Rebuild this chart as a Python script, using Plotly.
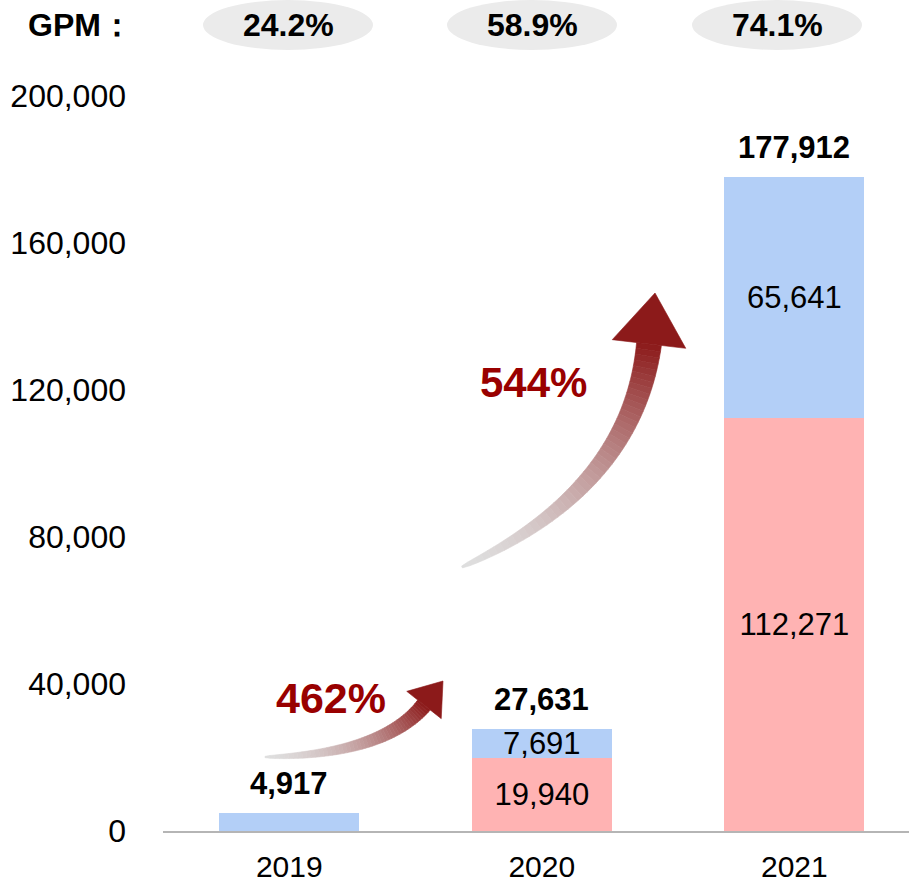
import plotly.graph_objects as go

# ---------------- data ----------------
years = ["2019", "2020", "2021"]
pink_values = [None, 19940, 112271]
blue_values = [4917, 7691, 65641]
blue_show_label = [False, True, True]
totals = [4917, 27631, 177912]
gpm_labels = ["24.2%", "58.9%", "74.1%"]
growth_labels = ["462%", "544%"]
y_ticks = [0, 40000, 80000, 120000, 160000, 200000]

# ---------------- layout constants ----------------
W, H = 909, 885
ML, MR, MT, MB = 163, 0, 96, 54
PW, PH = W - ML - MR, H - MT - MB
FONT = "Liberation Sans, Arial, sans-serif"
BLUE = "#B3CFF7"
PINK = "#FFB3B3"
RED = "#990000"


def px(x):
    return (x - ML) / PW


def py(y):
    return (MT + PH - y) / PH


def fmt(v):
    return "" if v is None else f"{v:,}"


fig = go.Figure()
fig.add_trace(go.Bar(
    x=years, y=pink_values, marker=dict(color=PINK, line=dict(width=0)),
    text=[fmt(v) for v in pink_values], textposition="inside",
    insidetextanchor="middle", constraintext="none", textangle=0,
    insidetextfont=dict(family=FONT, size=31, color="black"),
    hoverinfo="skip", name="pink"))
fig.add_trace(go.Bar(
    x=years, y=blue_values, marker=dict(color=BLUE, line=dict(width=0)),
    text=[fmt(v) if s else "" for v, s in zip(blue_values, blue_show_label)],
    textposition="inside", insidetextanchor="middle", constraintext="none",
    textangle=0, insidetextfont=dict(family=FONT, size=31, color="black"),
    hoverinfo="skip", name="blue"))

annotations = []
# totals above bars (category index as x)
for i, t in enumerate(totals):
    annotations.append(dict(x=i, y=t, xref="x", yref="y", text=f"{t:,}",
                            showarrow=False, yanchor="bottom", xanchor="center", yshift=10,
                            font=dict(family=FONT, size=31, color="black", weight="bold")))

shapes = []
# GPM row
gpm_centers = [288, 532, 777]
for cx, lab in zip(gpm_centers, gpm_labels):
    shapes.append(dict(type="circle", xref="paper", yref="paper",
                       x0=px(cx - 85), x1=px(cx + 85), y0=py(50), y1=py(0),
                       fillcolor="#EBEBEB", line=dict(width=0), layer="below"))
    annotations.append(dict(x=px(cx), y=py(25), xref="paper", yref="paper", text=lab,
                            showarrow=False, xanchor="center", yanchor="middle",
                            font=dict(family=FONT, size=32, color="black", weight="bold")))
annotations.append(dict(x=px(26), y=py(25), xref="paper", yref="paper", text="GPM：",
                        showarrow=False, xanchor="left", yanchor="middle",
                        font=dict(family=FONT, size=32, color="black", weight="bold")))


# ---------------- gradient curved arrows ----------------
def lerp(a, b, t):
    return a + (b - a) * t


def arrow(p0, p1, p2, tip, w1, hw, n=48):
    c0 = (222, 222, 222)
    c1 = (140, 26, 26)
    pts, norms, ts = [], [], []
    for i in range(n + 1):
        t = i / n
        x = (1 - t) ** 2 * p0[0] + 2 * (1 - t) * t * p1[0] + t ** 2 * p2[0]
        y = (1 - t) ** 2 * p0[1] + 2 * (1 - t) * t * p1[1] + t ** 2 * p2[1]
        dx = 2 * (1 - t) * (p1[0] - p0[0]) + 2 * t * (p2[0] - p1[0])
        dy = 2 * (1 - t) * (p1[1] - p0[1]) + 2 * t * (p2[1] - p1[1])
        L = (dx * dx + dy * dy) ** 0.5
        pts.append((x, y))
        norms.append((-dy / L, dx / L))
        ts.append(t)
    edges_l, edges_r = [], []
    for (x, y), (nx, ny), t in zip(pts, norms, ts):
        w = w1 * (0.08 + 0.92 * t ** 0.6)
        edges_l.append((x + nx * w / 2, y + ny * w / 2))
        edges_r.append((x - nx * w / 2, y - ny * w / 2))
    for i in range(n):
        tm = (ts[i] + ts[i + 1]) / 2
        cc = tuple(int(round(lerp(c0[k], c1[k], tm ** 1.5))) for k in range(3))
        col = f"rgb({cc[0]},{cc[1]},{cc[2]})"
        a, b = edges_l[i], edges_l[i + 1]
        c, d = edges_r[i + 1], edges_r[i]
        path = (f"M {px(a[0])},{py(a[1])} L {px(b[0])},{py(b[1])} "
                f"L {px(c[0])},{py(c[1])} L {px(d[0])},{py(d[1])} Z")
        shapes.append(dict(type="path", xref="paper", yref="paper", path=path,
                           fillcolor=col, line=dict(color=col, width=0.6), layer="above"))
    # head
    dx, dy = tip[0] - p2[0], tip[1] - p2[1]
    L = (dx * dx + dy * dy) ** 0.5
    nx, ny = -dy / L, dx / L
    b1 = (p2[0] + nx * hw, p2[1] + ny * hw)
    b2 = (p2[0] - nx * hw, p2[1] - ny * hw)
    hc = f"rgb({c1[0]},{c1[1]},{c1[2]})"
    path = (f"M {px(b1[0])},{py(b1[1])} L {px(tip[0])},{py(tip[1])} "
            f"L {px(b2[0])},{py(b2[1])} Z")
    shapes.append(dict(type="path", xref="paper", yref="paper", path=path,
                       fillcolor=hc, line=dict(color=hc, width=0.6), layer="above"))


arrow((265, 757), (383, 755), (424, 705), (443, 681), 16, 22)
arrow((462, 567), (632, 490), (649, 344), (655, 293), 25, 37)

annotations.append(dict(x=px(331), y=py(698), xref="paper", yref="paper", text=growth_labels[0],
                        showarrow=False, xanchor="center", yanchor="middle",
                        font=dict(family=FONT, size=43, color=RED, weight="bold")))
annotations.append(dict(x=px(533), y=py(383), xref="paper", yref="paper", text=growth_labels[1],
                        showarrow=False, xanchor="center", yanchor="middle",
                        font=dict(family=FONT, size=42, color=RED, weight="bold")))

fig.update_layout(
    width=W, height=H, autosize=False,
    margin=dict(l=ML, r=MR, t=MT, b=MB, pad=0, autoexpand=False),
    barmode="stack", bargap=0.4455,
    plot_bgcolor="white", paper_bgcolor="white",
    showlegend=False,
    font=dict(family=FONT, size=30, color="black"),
    xaxis=dict(type="category", range=[-0.5, 2.454], showline=True,
               linecolor="#B5B5B5", linewidth=2, showgrid=False, zeroline=False,
               ticks="", ticklabelstandoff=8, automargin=False,
               tickfont=dict(family=FONT, size=30, color="black")),
    yaxis=dict(range=[0, 200000], tickvals=y_ticks, tickformat=",",
               showline=False, showgrid=False, zeroline=False, ticks="",
               ticklabelstandoff=36, automargin=False,
               tickfont=dict(family=FONT, size=32, color="black")),
    shapes=shapes, annotations=annotations,
)

fig.write_html("out.html", config={"displayModeBar": False},
               post_script="document.body.style.margin='0';document.body.style.overflow='hidden';")
